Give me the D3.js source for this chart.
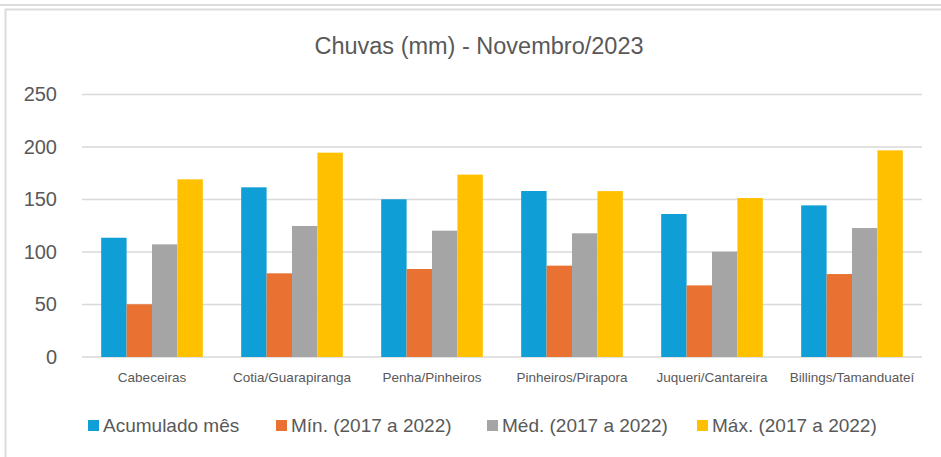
<!DOCTYPE html>
<html>
<head>
<meta charset="utf-8">
<script src="https://cdn.jsdelivr.net/npm/d3@7"></script>
<style>
  body { margin: 0; background: #fff; }
  text { font-family: "Liberation Sans", Arial, sans-serif; fill: #595959; }
</style>
</head>
<body>
<div id="chart"></div>
<script>
// chart data
const categories = ["Cabeceiras", "Cotia/Guarapiranga", "Penha/Pinheiros", "Pinheiros/Pirapora", "Juqueri/Cantareira", "Billings/Tamanduateí"]
const seriesNames = ["Acumulado mês", "Mín. (2017 a 2022)", "Méd. (2017 a 2022)", "Máx. (2017 a 2022)"]
const acumulado = [113.6, 161.6, 150.2, 158.1, 136.2, 144.4]
const minimo = [50.2, 79.7, 83.8, 87.0, 68.2, 79.0]
const media = [107.3, 124.8, 120.3, 117.8, 100.3, 122.8]
const maximo = [169.2, 194.6, 173.7, 158.0, 151.4, 196.8]
const yTicks = [0, 50, 100, 150, 200, 250]
const colors = ["#0F9ED5", "#E97132", "#A5A5A5", "#FFC000"]

const width = 941
const height = 457
const margin = { top: 94.5, bottom: 100, left: 82, right: 19 }

const svg = d3.select("#chart")
  .append("svg")
    .attr("width", width)
    .attr("height", height)

// frame of the chart area
svg.append("line")
  .attr("x1", 0).attr("x2", width)
  .attr("y1", 5).attr("y2", 5)
  .attr("stroke", "#dcdcdc").attr("stroke-width", 2)
svg.append("rect")
  .attr("x", 5.5).attr("y", 9.5)
  .attr("width", width + 20).attr("height", height)
  .attr("fill", "none")
  .attr("stroke", "#dcdcdc").attr("stroke-width", 2)

// title
svg.append("text")
  .attr("x", 479)
  .attr("y", 54)
  .attr("text-anchor", "middle")
  .style("font-size", "23.5px")
  .text("Chuvas (mm) - Novembro/2023")

const plotW = width - margin.left - margin.right
const plotH = 357 - margin.top

const g = svg.append("g")
  .attr("transform", "translate(" + margin.left + "," + margin.top + ")")

// scales
const x0 = d3.scaleBand()
  .domain(categories)
  .range([0, plotW])
  .paddingInner(0.274)
  .paddingOuter(0.137)

const x1 = d3.scaleBand()
  .domain(seriesNames)
  .range([0, x0.bandwidth()])

const y = d3.scaleLinear()
  .domain([0, 250])
  .range([plotH, 0])

// gridlines
g.append("g")
  .selectAll("line")
  .data(yTicks)
  .join("line")
    .attr("x1", 0).attr("x2", plotW)
    .attr("y1", d => y(d)).attr("y2", d => y(d))
    .attr("stroke", "#d9d9d9")
    .attr("stroke-width", 1.5)

// y axis labels
const yAxis = g.append("g")
  .call(d3.axisLeft(y).tickValues(yTicks).tickSize(0).tickPadding(25))
yAxis.select(".domain").remove()
yAxis.selectAll("text")
  .style("font-size", "20px")
  .attr("fill", "#595959")
  .style("font-family", "Liberation Sans, Arial, sans-serif")

// x axis labels
const xAxis = g.append("g")
  .attr("transform", "translate(0," + plotH + ")")
  .call(d3.axisBottom(x0).tickSize(0).tickPadding(15))
xAxis.select(".domain").remove()
xAxis.selectAll("text")
  .style("font-size", "13.5px")
  .attr("fill", "#595959")
  .style("font-family", "Liberation Sans, Arial, sans-serif")

// bars
const table = categories.map((c, i) => ({
  cat: c,
  values: [acumulado[i], minimo[i], media[i], maximo[i]].map((v, j) => ({ key: seriesNames[j], value: v, color: colors[j] }))
}))

g.append("g")
  .selectAll("g")
  .data(table)
  .join("g")
    .attr("transform", d => "translate(" + x0(d.cat) + ",0)")
  .selectAll("rect")
  .data(d => d.values)
  .join("rect")
    .attr("x", d => x1(d.key))
    .attr("y", d => y(d.value))
    .attr("width", x1.bandwidth())
    .attr("height", d => plotH - y(d.value))
    .attr("fill", d => d.color)

// legend
const legendX = [88, 276, 487, 697]
const legend = svg.append("g")
  .selectAll("g")
  .data(seriesNames)
  .join("g")
    .attr("transform", (d, i) => "translate(" + legendX[i] + ",420)")
legend.append("rect")
  .attr("width", 11).attr("height", 11)
  .attr("fill", (d, i) => colors[i])
legend.append("text")
  .attr("x", 15)
  .attr("y", 12)
  .style("font-size", "19px")
  .text(d => d)
</script>
</body>
</html>
